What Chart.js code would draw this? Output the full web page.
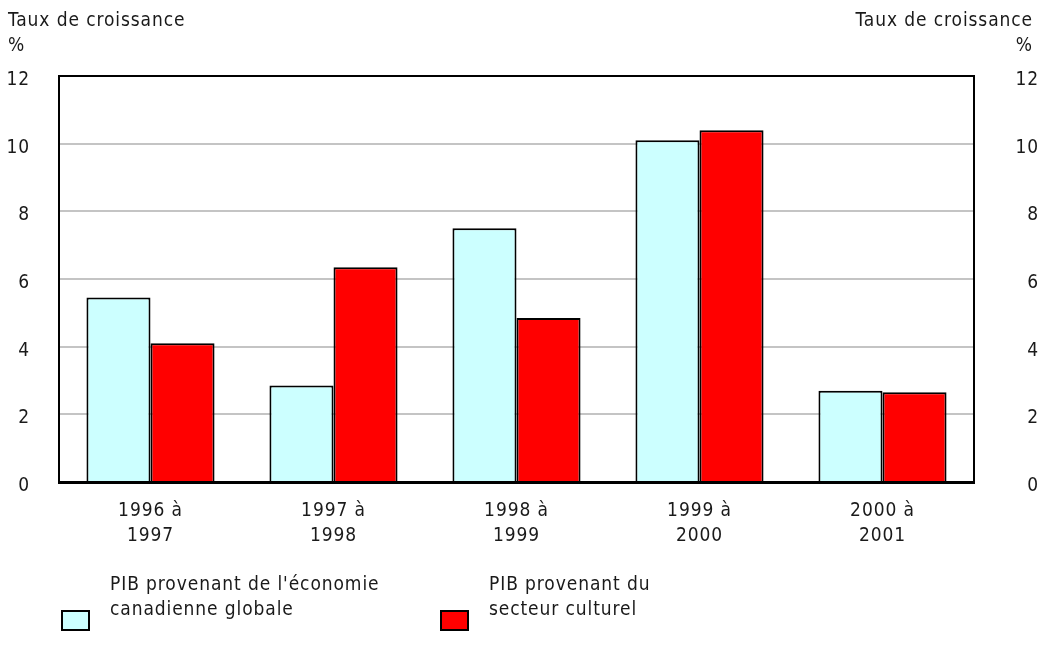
<!DOCTYPE html>
<html>
<head>
<meta charset="utf-8">
<script src="https://cdn.jsdelivr.net/npm/chart.js@4"></script>
<style>
  html, body { margin: 0; padding: 0; background: #fff; }
  #wrap { width: 1039px; height: 652px; }
</style>
</head>
<body>
<div id="wrap"><canvas id="chart"></canvas></div>
<script>
const periods = [["1996 à", "1997"], ["1997 à", "1998"], ["1998 à", "1999"], ["1999 à", "2000"], ["2000 à", "2001"]];
const economyGrowth = [5.45, 2.85, 7.5, 10.1, 2.7];
const cultureGrowth = [4.1, 6.35, 4.85, 10.4, 2.65];
const legendLines = [["PIB provenant de l'économie", "canadienne globale"], ["PIB provenant du", "secteur culturel"]];
const axisTitle = "Taux de croissance";
const axisUnit = "%";

const FONT = "'Liberation Sans Narrow', 'DejaVu Sans Condensed', sans-serif";
const SPACING = "0.9px";
Chart.defaults.font.family = FONT;
Chart.defaults.font.size = 19;
Chart.defaults.color = "#1a1a1a";

const decorations = {
  id: "decorations",
  beforeUpdate(chart) { chart.ctx.letterSpacing = SPACING; },
  beforeDraw(chart) { chart.ctx.letterSpacing = SPACING; },
  afterDraw(chart) {
    const { ctx, chartArea: a } = chart;
    ctx.save();
    ctx.letterSpacing = SPACING;
    // frame top and right
    ctx.strokeStyle = "#000";
    ctx.lineWidth = 2;
    ctx.beginPath();
    ctx.moveTo(a.left, a.top);
    ctx.lineTo(a.right, a.top);
    ctx.lineTo(a.right, a.bottom);
    ctx.stroke();

    // axis titles
    ctx.fillStyle = "#1a1a1a";
    ctx.font = "19px " + FONT;
    ctx.textBaseline = "middle";
    ctx.textAlign = "left";
    ctx.fillText(axisTitle, 8, 21);
    ctx.fillText(axisUnit, 8, 46);
    ctx.textAlign = "right";
    ctx.fillText(axisTitle, 1033, 21);
    ctx.fillText(axisUnit, 1033, 46);

    // legend
    const xs = [62, 441];
    chart.data.datasets.forEach((ds, i) => {
      const x = xs[i];
      ctx.fillStyle = ds.backgroundColor;
      ctx.fillRect(x, 611, 27, 19);
      ctx.strokeStyle = "#000";
      ctx.lineWidth = 2;
      ctx.strokeRect(x, 611, 27, 19);
      ctx.fillStyle = "#1a1a1a";
      ctx.textAlign = "left";
      legendLines[i].forEach((t, j) => ctx.fillText(t, x + 48, 585 + j * 25));
    });
    ctx.restore();
  }
};

new Chart(document.getElementById("chart"), {
  type: "bar",
  data: {
    labels: periods,
    datasets: [
      {
        label: legendLines[0].join(" "),
        data: economyGrowth,
        backgroundColor: "#ccffff",
        borderColor: "#000",
        borderWidth: 2,
        borderSkipped: "bottom",
        categoryPercentage: 0.7,
        barPercentage: 1.0
      },
      {
        label: legendLines[1].join(" "),
        data: cultureGrowth,
        backgroundColor: "#ff0000",
        borderColor: "#000",
        borderWidth: 2,
        borderSkipped: "bottom",
        categoryPercentage: 0.7,
        barPercentage: 1.0
      }
    ]
  },
  options: {
    responsive: true,
    maintainAspectRatio: false,
    animation: false,
    layout: { padding: { top: 76, bottom: 0, left: 0, right: 0 } },
    plugins: { legend: { display: false }, tooltip: { enabled: false } },
    scales: {
      x: {
        grid: { display: false },
        border: { display: true, color: "#000", width: 3 },
        ticks: { padding: 9, font: { size: 19, lineHeight: 1.3 }, maxRotation: 0, autoSkip: false },
        afterFit(s) { s.height = 170; }
      },
      y: {
        position: "left",
        min: 0,
        max: 12,
        ticks: { stepSize: 2, padding: 29, labelOffset: 4 },
        grid: { color: "#c4c4c4", lineWidth: 2, drawTicks: false },
        border: { display: true, color: "#000", width: 2 },
        afterFit(s) { s.width = 59; }
      },
      y2: {
        position: "right",
        min: 0,
        max: 12,
        ticks: { stepSize: 2, padding: 36, crossAlign: "far", labelOffset: 4 },
        grid: { display: false, drawTicks: false },
        border: { display: true, color: "#000", width: 2 },
        afterFit(s) { s.width = 65; }
      }
    }
  },
  plugins: [decorations]
});
</script>
</body>
</html>
